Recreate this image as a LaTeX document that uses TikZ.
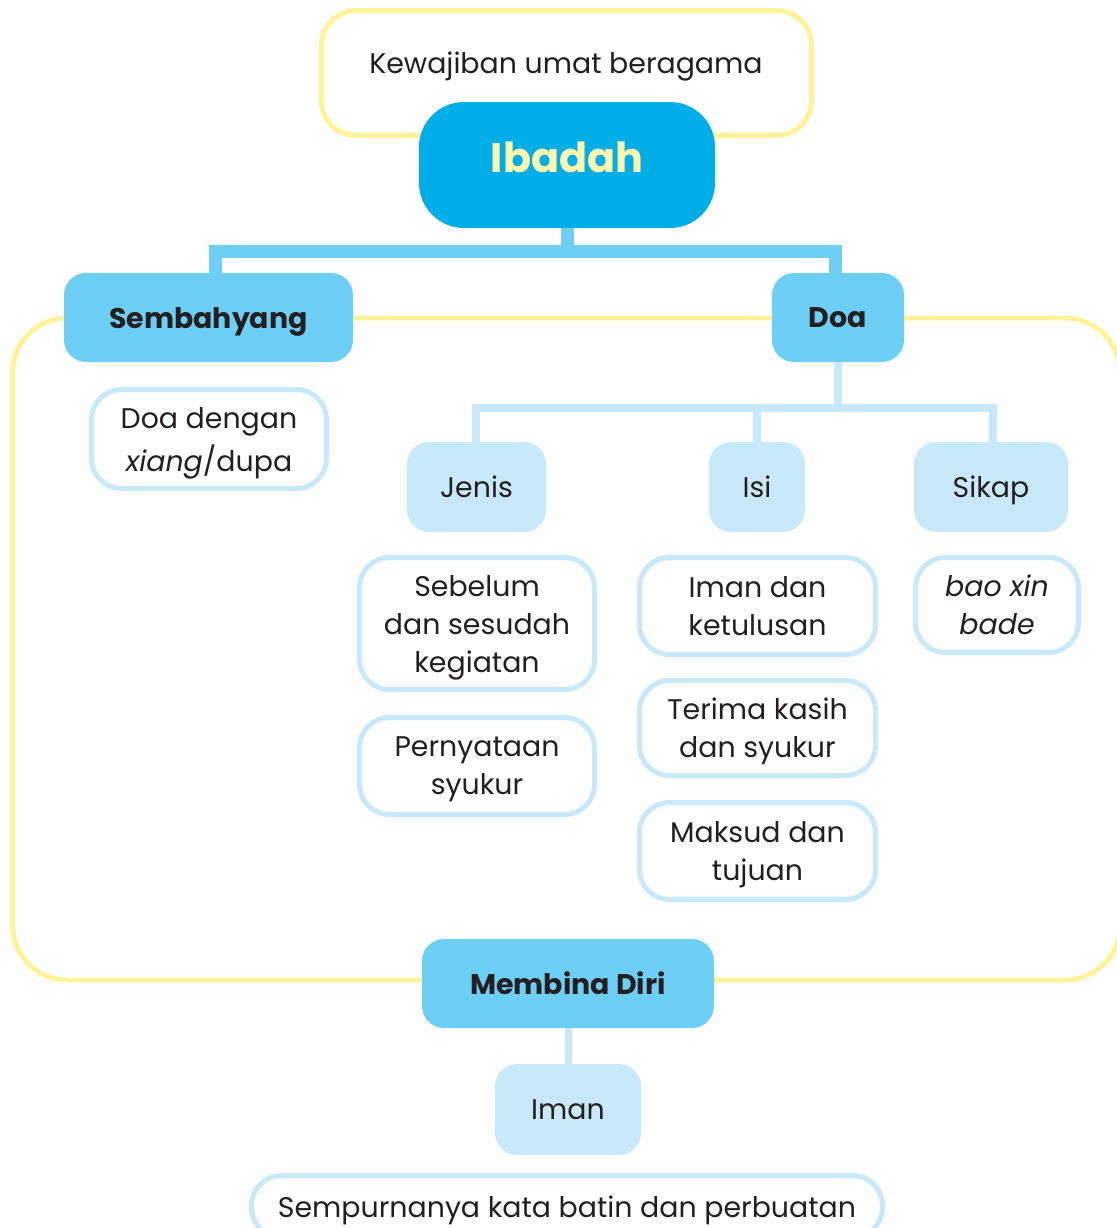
\documentclass[tikz,border=0pt]{standalone}
\usepackage{fontspec}
\setmainfont{Poppins}
\definecolor{yellowline}{HTML}{FFF39A}
\definecolor{ibadahblue}{HTML}{00AEE7}
\definecolor{midblue}{HTML}{6DCFF6}
\definecolor{lightblue}{HTML}{C7E9F9}
\definecolor{textdark}{HTML}{231F20}
\definecolor{ibadahtext}{HTML}{FFF7AE}
\newcommand{\nodesc}[1]{\raisebox{0pt}[\height][0pt]{#1}}
\begin{document}
\begin{tikzpicture}[x=0.75pt,y=-0.75pt,
  bodyfont/.style={font=\fontsize{21.3}{28.5}\selectfont},
  frameline/.style={draw=yellowline, line width=3.75pt, rounded corners=41pt},
  topbox/.style={draw=yellowline, line width=3.75pt, fill=white, rounded corners=26pt, inner sep=0pt},
  rootbox/.style={fill=ibadahblue, rounded corners=33.75pt, inner sep=0pt, text=ibadahtext, font=\fontsize{31}{37}\selectfont\bfseries},
  mainbox/.style={fill=midblue, rounded corners=16.5pt, inner sep=0pt, text=textdark, font=\fontsize{21.3}{28}\selectfont\bfseries, minimum height=66.75pt},
  subbox/.style={fill=lightblue, rounded corners=16.5pt, inner sep=0pt, text=textdark, bodyfont, minimum height=67.5pt},
  leafbox/.style={draw=lightblue, line width=3.75pt, fill=white, rounded corners=22.5pt, inner sep=0pt, align=center, text=textdark, bodyfont},
  plaintext/.style={inner sep=0pt, text=textdark, bodyfont},
  conna/.style={draw=midblue, line width=9.75pt, line join=miter},
  connb/.style={draw=lightblue, line width=6pt, line join=miter},
  connc/.style={draw=lightblue, line width=5.25pt}
]
\useasboundingbox (0,0) rectangle (1117,1228);

% large yellow frame
\draw[frameline] (12.5,318) rectangle (1120,980);

% top
\node[topbox, minimum width=367.5pt, minimum height=93.75pt] (kbox) at (566.5,73) {};
\node[plaintext] (ktext) at (566,62.5) {\nodesc{Kewajiban umat beragama}};
\node[rootbox, minimum width=222pt, minimum height=94.5pt, text depth=12pt] (ibadah) at (567,165) {Ibadah};

% level 1
\node[mainbox, minimum width=216.75pt] (semb) at (208.5,317.5) {\nodesc{Sembahyang}};
\node[mainbox, minimum width=99pt] (doa) at (838,317.5) {\nodesc{Doa}};

% Sembahyang leaf
\node[leafbox, minimum width=176.25pt, minimum height=74.25pt, font=\fontsize{21.3}{32.25}\selectfont] (xiang) at (209,439) {Doa dengan\\\nodesc{\textit{xiang}/dupa}};

% level 2 under Doa
\node[subbox, minimum width=104.25pt] (jenis) at (476.5,487) {\nodesc{Jenis}};
\node[subbox, minimum width=72pt] (isi) at (757,487) {\nodesc{Isi}};
\node[subbox, minimum width=115.5pt] (sikap) at (991,487) {\nodesc{Sikap}};

% leaves
\node[leafbox, minimum width=176.25pt, minimum height=99pt] (sebelum) at (477,623.5) {Sebelum\\dan sesudah\\\nodesc{kegiatan}};
\node[leafbox, minimum width=176.25pt, minimum height=72.75pt] (pernyataan) at (477,766) {Pernyataan\\\nodesc{syukur}};
\node[leafbox, minimum width=177pt, minimum height=72.75pt] (imandan) at (757.5,606) {Iman dan\\\nodesc{ketulusan}};
\node[leafbox, minimum width=177pt, minimum height=71.25pt] (terima) at (757.5,728) {Terima kasih\\\nodesc{dan syukur}};
\node[leafbox, minimum width=177pt, minimum height=72.75pt] (maksud) at (757.5,851) {Maksud dan\\\nodesc{tujuan}};
\node[leafbox, minimum width=122.25pt, minimum height=71.25pt] (baoxin) at (997,605) {\textit{bao xin}\\\nodesc{\textit{bade}}};

% bottom
\node[mainbox, minimum width=219pt] (membina) at (568,983.5) {\nodesc{Membina Diri}};
\node[subbox, minimum width=109.5pt, minimum height=68.25pt] (iman) at (568,1109.5) {\nodesc{Iman}};
\node[leafbox, minimum width=473.25pt, minimum height=46.5pt] (sempurna) at (567,1206.5) {\nodesc{Sempurnanya kata batin dan perbuatan}};

% connectors: Ibadah
\coordinate (jl) at (215.5,251.5);
\coordinate (jr) at (835,251.5);
\draw[conna] (ibadah.south) -- (ibadah.south |- jl);
\draw[conna] (semb.north -| jl) -- (jl) -- (jr) -- (doa.north -| jr);

% connectors: Doa
\coordinate (dl) at (476,407.5);
\coordinate (dr) at (993,407.5);
\draw[connb] (doa.south) -- (doa.south |- dl);
\draw[connb] (jenis.north -| dl) -- (dl) -- (dr) -- (sikap.north -| dr);
\draw[connb] (isi.north) -- (isi.north |- dl);

% connector: Membina Diri
\draw[connc] (membina.south) -- (iman.north);
\end{tikzpicture}
\end{document}
